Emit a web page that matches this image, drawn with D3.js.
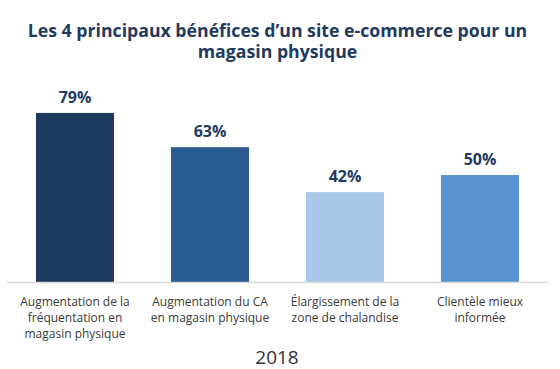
<!DOCTYPE html>
<html><head><meta charset="utf-8">
<script src="https://cdn.jsdelivr.net/npm/d3@7"></script>
<style>body{margin:0;background:#fff;font-family:"Open Sans",sans-serif;}</style>
</head><body>
<svg id="c" width="560" height="369"></svg>
<script>
const categories = [
  ["Augmentation de la", "fréquentation en", "magasin physique"],
  ["Augmentation du CA", "en magasin physique"],
  ["Élargissement de la", "zone de chalandise"],
  ["Clientèle mieux", "informée"]
];
const values = [79, 63, 42, 50];
const colors = ["#1d3a5e", "#2a5b91", "#a9c8e9", "#5893cf"];
const titleLines = ["Les 4 principaux bénéfices d’un site e-commerce pour un", "magasin physique"];
const yearLabel = "2018";

const svg = d3.select("#c");
const ids = d3.range(values.length);
const x = d3.scaleBand().domain(ids).range([7.5, 547.5]).paddingInner(0.422).paddingOuter(0.211);
const y = d3.scaleLinear().domain([0, 100]).range([282, 68]);

svg.append("g").selectAll("text").data(titleLines).join("text")
  .attr("x", 277.5).attr("y", (d, i) => 36.5 + i * 21)
  .attr("text-anchor", "middle").attr("font-size", 17.7).attr("font-weight", 700)
  .attr("fill", "#1f3a5f").text(d => d);

svg.append("g").selectAll("rect").data(values).join("rect")
  .attr("x", (d, i) => x(i)).attr("width", x.bandwidth())
  .attr("y", d => y(d)).attr("height", d => y(0) - y(d))
  .attr("fill", (d, i) => colors[i]);

svg.append("line").attr("x1", 7).attr("x2", 548).attr("y1", y(0) + 0.5).attr("y2", y(0) + 0.5)
  .attr("stroke", "#d9d9d9").attr("stroke-width", 1.5);

svg.append("g").selectAll("text").data(values).join("text")
  .attr("x", (d, i) => x(i) + x.bandwidth() / 2).attr("y", d => y(d) - 10)
  .attr("text-anchor", "middle").attr("font-size", 16).attr("font-weight", 700)
  .attr("fill", "#1f3a5f").text(d => d + "%");

const lab = svg.append("g").selectAll("text").data(categories).join("text")
  .attr("text-anchor", "middle").attr("font-size", 12).attr("fill", "#3a3a3a");
lab.each(function(d, i) {
  d3.select(this).selectAll("tspan").data(d).join("tspan")
    .attr("x", x(i) + x.bandwidth() / 2).attr("y", (t, j) => 306 + j * 16).text(t => t);
});

svg.append("text").attr("x", 277).attr("y", 364).attr("text-anchor", "middle")
  .attr("font-size", 19).attr("fill", "#333").text(yearLabel);
</script>
</body></html>
